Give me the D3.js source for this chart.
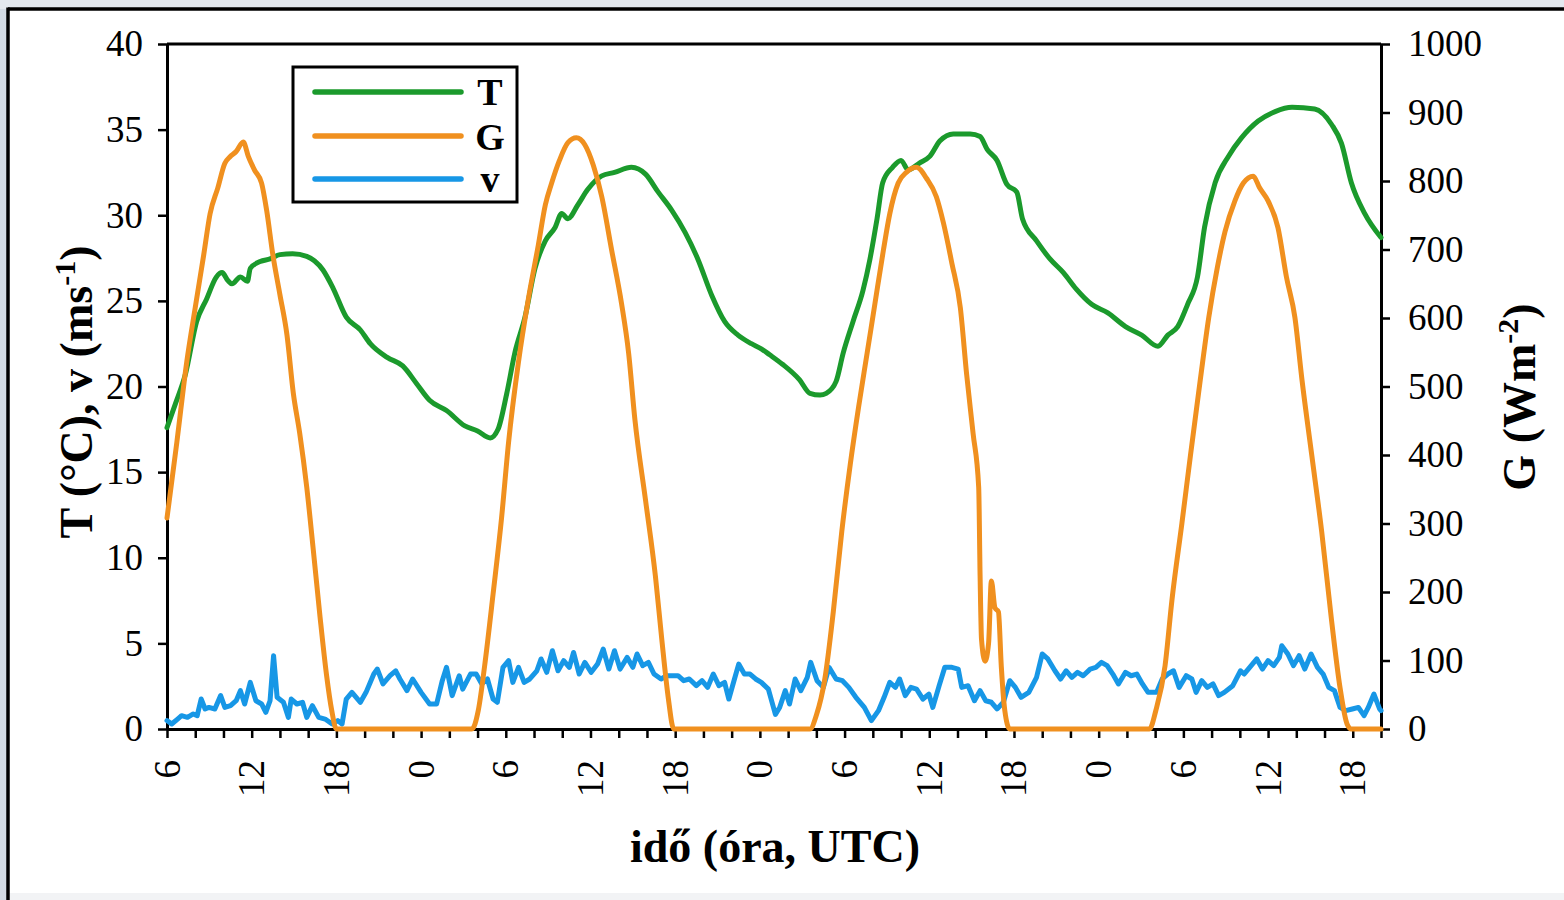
<!DOCTYPE html>
<html><head><meta charset="utf-8">
<script src="https://cdn.jsdelivr.net/npm/d3@7"></script>
<style>
html,body{margin:0;padding:0;}
body{width:1564px;height:900px;overflow:hidden;background:linear-gradient(90deg,#d3dbe4 0%,#e6eaef 20%,#eceff3 100%);}
svg{display:block;}
</style></head><body><svg id="c" width="1564" height="900"></svg>
<script>
// ---- data (hours counted from day 1 00 UTC) ----
const tempHours = [6.0,6.6,7.3,8.1,8.8,9.5,9.9,10.3,10.6,11.2,11.7,11.9,12.6,13.3,14.0,14.9,15.9,17.05,17.76,18.7,19.7,20.4,21.6,22.7,23.7,24.6,25.8,27.1,28.0,28.9,29.45,30.07,30.65,31.36,32.07,32.8,33.5,33.96,34.4,35.1,35.8,36.8,37.7,38.9,39.9,40.8,41.75,42.7,43.6,44.6,45.5,46.45,47.4,48.1,48.7,49.6,50.8,51.55,52.26,52.7,53.4,53.9,54.6,55.3,55.8,56.3,56.7,57.4,58.0,58.5,59.3,60.05,60.76,61.7,62.9,63.6,64.1,64.8,65.5,66.2,66.6,67.6,68.55,69.5,70.4,71.5,72.65,73.9,75.05,76.2,76.9,77.6,78.3,79.0,79.5,80.25,81.2,82.1,83.3,84.5,85.7,87.3,88.5,89.2,89.9,90.85,92.0];
const tempValues = [17.6,19.0,20.7,23.8,25.1,26.4,26.65,26.2,26.0,26.4,26.15,26.9,27.3,27.45,27.7,27.75,27.6,26.8,25.75,24.05,23.3,22.5,21.7,21.2,20.15,19.2,18.6,17.7,17.4,17.0,17.5,19.6,22.0,24.05,26.9,28.5,29.3,30.1,29.8,30.6,31.5,32.3,32.5,32.8,32.4,31.35,30.3,29.0,27.45,25.3,23.8,23.0,22.5,22.2,21.85,21.3,20.4,19.6,19.5,19.6,20.3,21.95,23.8,25.6,27.45,29.8,31.9,32.8,33.2,32.65,33.05,33.45,34.35,34.75,34.75,34.6,33.85,33.2,31.8,31.35,29.8,28.5,27.45,26.65,25.7,24.8,24.3,23.5,23.0,22.35,23.0,23.5,24.8,26.4,29.3,31.9,33.45,34.5,35.5,36.05,36.3,36.2,35.3,34.2,31.9,30.1,28.7];

const radHours = [6.0,6.7,7.4,8.0,8.6,9.05,9.6,10.1,10.45,10.9,11.4,11.76,12.2,12.7,13.06,13.5,14.0,14.5,14.95,15.4,15.9,16.36,16.84,17.3,17.67,18.0,27.6,28.05,28.5,29.1,29.7,30.2,30.9,31.6,32.3,32.8,33.25,33.8,34.4,35.0,35.6,36.2,36.8,37.5,38.2,38.7,39.15,39.9,40.6,41.05,41.5,41.9,51.55,52.0,52.6,53.2,53.8,54.4,55.0,55.6,56.15,56.75,57.2,57.8,58.4,59.1,59.8,60.5,61.0,61.6,62.2,62.65,63.1,63.5,63.6,63.7,63.95,64.2,64.4,64.65,64.9,65.1,65.35,65.7,75.6,76.05,76.7,77.2,77.9,78.5,79.2,79.8,80.4,80.95,81.65,82.25,82.95,83.4,84.0,84.7,85.3,85.9,86.4,87.1,87.8,88.5,89.1,89.6,89.9,92.0];
const radValues = [308,419,536,615,692,752,790,826,835,843,857,836,816,797,757,692,634,575,490,432,353,262,164,79,27,0,0,27,92,197,308,419,536,628,706,765,797,830,856,863,853,823,777,699,621,549,451,334,223,131,47,0,0,20,73,171,288,386,471,549,621,699,752,797,813,820,804,777,739,680,615,517,432,353,223,131,99,125,216,177,171,92,27,0,0,27,92,190,301,399,510,601,673,726,771,797,807,790,771,732,660,601,510,399,288,158,60,7,0,0];

const windHours = [6.0,6.33,6.75,7.03,7.45,7.86,8.14,8.42,8.7,8.97,9.39,9.8,10.1,10.5,10.9,11.2,11.5,11.9,12.3,12.7,13.0,13.3,13.55,13.8,14.25,14.6,14.8,15.2,15.6,15.9,16.3,16.75,17.2,17.7,18.1,18.4,18.7,19.1,19.7,20.1,20.65,20.9,21.3,21.8,22.2,22.5,23.0,23.4,24.0,24.6,25.1,25.5,25.8,26.2,26.7,26.95,27.5,27.9,28.3,28.7,29.1,29.4,29.8,30.2,30.5,30.9,31.3,31.7,32.2,32.5,32.9,33.3,33.7,34.1,34.5,34.8,35.2,35.6,36.05,36.5,36.9,37.3,37.7,38.1,38.6,39.0,39.3,39.7,40.1,40.5,41.0,41.4,41.8,42.2,42.6,43.0,43.5,43.9,44.3,44.7,45.1,45.5,45.8,46.2,46.5,46.9,47.3,47.7,48.1,48.6,49.1,49.4,49.8,50.1,50.5,50.9,51.36,51.6,52.05,52.5,52.9,53.4,53.85,54.3,54.8,55.4,55.9,56.4,56.8,57.2,57.6,57.9,58.3,58.7,59.1,59.55,59.97,60.25,60.7,61.1,61.6,62.05,62.3,62.75,63.2,63.6,64.0,64.4,64.8,65.25,65.7,66.1,66.5,67.05,67.6,68.0,68.4,68.9,69.3,69.7,70.1,70.5,70.9,71.4,71.8,72.2,72.6,73.0,73.4,73.9,74.3,74.7,75.1,75.5,76.1,76.5,76.9,77.3,77.7,78.2,78.6,78.9,79.3,79.7,80.1,80.5,80.9,81.5,82.05,82.3,82.7,83.2,83.6,84.0,84.4,84.8,84.97,85.4,85.8,86.2,86.6,87.05,87.5,87.9,88.3,88.7,89.1,89.5,89.97,90.4,90.8,91.1,91.5,91.9,92.0];
const windValues = [0.49,0.29,0.58,0.78,0.68,0.88,0.78,1.75,1.17,1.26,1.17,1.95,1.26,1.36,1.65,2.24,1.46,2.72,1.65,1.46,0.97,1.65,4.28,1.85,1.56,0.68,1.75,1.46,1.56,0.68,1.36,0.68,0.58,0.29,0.49,0.29,1.75,2.14,1.56,2.14,3.21,3.50,2.63,3.11,3.40,2.92,2.24,2.92,2.14,1.46,1.46,2.82,3.60,1.95,3.11,2.33,3.21,3.21,2.63,2.92,1.75,1.56,3.60,3.99,2.72,3.60,2.72,2.92,3.40,4.09,3.31,4.57,3.40,3.99,3.60,4.47,3.21,3.89,3.31,3.79,4.67,3.50,4.57,3.50,4.18,3.60,4.38,3.70,3.89,3.21,2.92,3.11,3.11,3.11,2.82,2.92,2.53,2.82,2.43,3.21,2.53,2.72,1.75,2.92,3.79,3.21,3.21,2.92,2.72,2.33,0.85,1.26,2.24,1.46,2.92,2.24,3.02,3.89,2.82,2.43,3.60,2.92,2.82,2.43,1.85,1.26,0.49,1.07,1.85,2.72,2.43,2.92,1.95,2.43,2.33,1.75,2.04,1.26,2.53,3.60,3.60,3.50,2.43,2.53,1.65,2.24,1.65,1.56,1.17,1.56,2.82,2.43,1.85,2.14,3.02,4.38,4.09,3.40,2.92,3.40,3.02,3.31,3.11,3.50,3.60,3.89,3.70,3.21,2.63,3.31,3.11,3.21,2.63,2.14,2.14,2.92,3.21,3.40,2.43,3.11,2.92,2.14,2.82,2.43,2.63,1.95,2.14,2.53,3.40,3.21,3.60,4.09,3.50,3.99,3.70,4.18,4.86,4.38,3.70,4.28,3.50,4.38,3.60,3.21,2.43,2.24,1.26,1.07,1.17,1.26,0.78,1.26,2.04,1.17,1.07];

const leftTicks = [0,5,10,15,20,25,30,35,40];
const rightTicks = [0,100,200,300,400,500,600,700,800,900,1000];
const xMinorTicks = d3.range(6, 93, 2);
const xLabelHours = [6,12,18,24,30,36,42,48,54,60,66,72,78,84,90];
const xLabelText = ["6","12","18","0","6","12","18","0","6","12","18","0","6","12","18"];
const seriesNames = ["T","G","v"];
const seriesColors = ["#1b9a2c","#f0901f","#1797e6"];

// ---- drawing ----
const svg = d3.select("#c");
const FONT = "'Liberation Serif','Times New Roman',serif";

// frame
svg.append("rect").attr("x",0).attr("y",0).attr("width",1564).attr("height",9).attr("fill","#e4e9ef");
svg.append("rect").attr("x",8).attr("y",9).attr("width",1600).attr("height",900).attr("fill","#ffffff");
svg.append("rect").attr("x",8).attr("y",893).attr("width",1600).attr("height",10).attr("fill","#f2f3f5");
svg.append("line").attr("x1",8).attr("x2",1564).attr("y1",9).attr("y2",9).attr("stroke","#000").attr("stroke-width",3.5);
svg.append("line").attr("x1",8).attr("x2",8).attr("y1",7.5).attr("y2",900).attr("stroke","#000").attr("stroke-width",3.5);

const x = d3.scaleLinear().domain([6,92]).range([167,1381]);
const yL = d3.scaleLinear().domain([0,40]).range([729,44]);
const yR = d3.scaleLinear().domain([0,1000]).range([729,44]);

function styleAxis(g){
  g.select(".domain").attr("stroke","#000").attr("stroke-width",3);
  g.selectAll(".tick line").attr("stroke","#000").attr("stroke-width",2.5);
  g.selectAll(".tick text").attr("fill","#000").style("font-family",FONT).style("font-size","37px");
}

svg.append("g").attr("transform","translate(167,0)")
  .call(d3.axisLeft(yL).tickValues(leftTicks).tickFormat(d3.format("d")).tickSize(9).tickSizeOuter(0).tickPadding(15))
  .call(styleAxis);
svg.append("g").attr("transform","translate(1381,0)")
  .call(d3.axisRight(yR).tickValues(rightTicks).tickFormat(d3.format("d")).tickSize(9).tickSizeOuter(0).tickPadding(18))
  .call(styleAxis);
svg.append("g").attr("transform","translate(0,729)")
  .call(d3.axisBottom(x).tickValues(xMinorTicks).tickFormat("").tickSize(9).tickSizeOuter(0))
  .call(styleAxis);
svg.append("line").attr("x1",167).attr("x2",1381).attr("y1",44).attr("y2",44).attr("stroke","#000").attr("stroke-width",3);

// x labels (rotated)
svg.append("g").selectAll("text").data(xLabelHours).join("text")
  .attr("transform",(d)=>`translate(${x(d)},760) rotate(-90)`)
  .attr("text-anchor","end").attr("dominant-baseline","central")
  .style("font-family",FONT).style("font-size","37px").attr("fill","#000")
  .text((d,i)=>xLabelText[i]);

// lines
const mk = (hs, vs) => hs.map((h,i)=>[h, vs[i]]);
const lineL = d3.line().x(d=>x(d[0])).y(d=>yL(d[1]));
const lineLs = d3.line().curve(d3.curveMonotoneX).x(d=>x(d[0])).y(d=>yL(d[1]));
const lineRs = d3.line().curve(d3.curveMonotoneX).x(d=>x(d[0])).y(d=>yR(d[1]));
const plot = svg.append("g").attr("fill","none").attr("stroke-width",5).attr("stroke-linejoin","round").attr("stroke-linecap","round");
plot.append("path").datum(mk(tempHours,tempValues)).attr("d",lineLs).attr("stroke",seriesColors[0]);
plot.append("path").datum(mk(windHours,windValues)).attr("d",lineL).attr("stroke",seriesColors[2]);
plot.append("path").datum(mk(radHours,radValues)).attr("d",lineRs).attr("stroke",seriesColors[1]);

// legend
const lg = svg.append("g");
lg.append("rect").attr("x",293).attr("y",67).attr("width",224).attr("height",135).attr("fill","#fff").attr("stroke","#000").attr("stroke-width",3);
const ly = [92,136,179];
const lb = [105,150,192];
seriesNames.forEach((n,i)=>{
  lg.append("line").attr("x1",315).attr("x2",461).attr("y1",ly[i]).attr("y2",ly[i])
    .attr("stroke",seriesColors[i]).attr("stroke-width",5.5).attr("stroke-linecap","round");
  lg.append("text").attr("x",490).attr("y",lb[i])
    .attr("text-anchor","middle").style("font-family",FONT).style("font-weight","bold")
    .style("font-size","38px").text(n);
});

// titles
svg.append("text").attr("x",775).attr("y",862).attr("text-anchor","middle")
  .style("font-family",FONT).style("font-weight","bold").style("font-size","46px").text("idő (óra, UTC)");

const lt = svg.append("text").attr("transform","translate(92,392) rotate(-90)").attr("text-anchor","middle")
  .style("font-family",FONT).style("font-weight","bold").style("font-size","46px");
lt.append("tspan").text("T (°C), v (ms");
lt.append("tspan").attr("dy",-17).style("font-size","30px").text("-1");
lt.append("tspan").attr("dy",17).text(")");

const rt = svg.append("text").attr("transform","translate(1535,397) rotate(-90)").attr("text-anchor","middle")
  .style("font-family",FONT).style("font-weight","bold").style("font-size","46px");
rt.append("tspan").text("G (Wm");
rt.append("tspan").attr("dy",-17).style("font-size","30px").text("-2");
rt.append("tspan").attr("dy",17).text(")");
</script></body></html>
